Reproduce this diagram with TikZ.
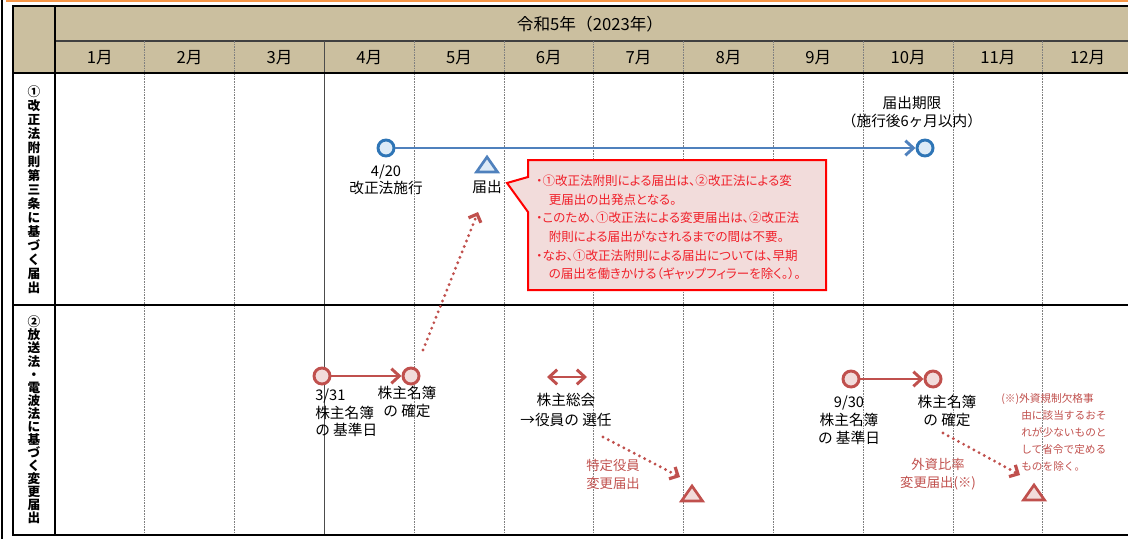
\documentclass[tikz,border=0pt]{standalone}
\usepackage{fontspec}
\setmainfont{Noto Sans CJK JP}
\newfontfamily\memofont[RawFeature=+palt]{Noto Sans CJK JP}
\usetikzlibrary{arrows.meta}

\definecolor{hdrtan}{HTML}{CBBF9F}
\definecolor{lineblue}{HTML}{4F81BD}
\definecolor{ringblue}{HTML}{2E75B6}
\definecolor{fillblue}{HTML}{DDEBF7}
\definecolor{linered}{HTML}{C0504D}
\definecolor{fillred}{HTML}{F2DCDB}
\definecolor{memored}{HTML}{F0202A}
\definecolor{gridgray}{HTML}{7F7F7F}
\definecolor{frameorange}{HTML}{F79646}

\begin{document}
\begin{tikzpicture}[x=0.75pt, y=-0.75pt,
    grid/.style={gridgray, line width=0.6pt, dash pattern=on 1.2pt off 0.8pt},
    rule/.style={black, line width=1.5pt},
    bluering/.style={circle, draw=ringblue, fill=fillblue, line width=2.2pt, minimum size=12pt, inner sep=0pt},
    redring/.style={circle, draw=linered, fill=fillred, line width=2.2pt, minimum size=12pt, inner sep=0pt},
    bluearrow/.style={lineblue, line width=2.2pt, -{Straight Barb[length=6pt,width=11pt]}},
    redarrow/.style={linered, line width=2.2pt, -{Straight Barb[length=6pt,width=11pt]}},
    bothways/.style={linered, line width=2.2pt, {Straight Barb[length=6pt,width=11pt]}-{Straight Barb[length=6pt,width=11pt]}},
    dotarrow/.style={linered, line width=2.4pt, line cap=round, dash pattern=on 0pt off 4.4pt, -{Straight Barb[length=5pt,width=10pt]}},
    bluetri/.style={draw=lineblue, fill=fillblue, line width=2pt},
    redtri/.style={draw=linered, fill=fillred, line width=2pt},
    callout/.style={draw=red, fill=fillred, line width=1.5pt},
    yearlbl/.style={font=\fontsize{12.5}{15}\selectfont},
    monthlbl/.style={font=\fontsize{12.5}{15}\selectfont},
    rowlbl/.style={align=center, inner sep=0pt, font=\bfseries\fontsize{9.5}{10.5}\selectfont},
    lbl/.style={align=center, inner sep=0pt, font=\fontsize{11}{12.5}\selectfont},
    redlbl/.style={align=center, inner sep=0pt, text=linered, font=\fontsize{10}{13.5}\selectfont},
    memo/.style={align=left, inner sep=0pt, anchor=north west, text=memored, font=\memofont\fontsize{9.4}{13.9}\selectfont},
    footnote/.style={align=left, inner sep=0pt, anchor=west, text=linered, font=\fontsize{8}{12.75}\selectfont}]
  \useasboundingbox (0,0) rectangle (1128,539);

  % Frame
  \draw[frameorange, line width=1.6pt] (6,1) -- (1128,1);
  \draw[black, line width=2.2pt] (2,0) -- (2,539);

  % Header
  \fill[hdrtan] (13,6) rectangle (1133,73);
  \draw[black!75, line width=0.8pt] (55,41) -- (1133,41);

  % Month grid
  \foreach \m in {1,2,4,5,6,7,8,9,10,11}
    \draw[grid] ({55+89.8*\m},41) -- ({55+89.8*\m},535);
  \draw[black!70, line width=0.9pt] (324.4,41) -- (324.4,535);

  % Rules
  \draw[rule] (13,6) rectangle (1133,535);
  \draw[rule] (55,6) -- (55,535);
  \draw[rule] (13,73) -- (1133,73);
  \draw[rule] (13,305) -- (1133,305);

  % Heading
  \node[yearlbl] (year) at (590,24) {令和5年（2023年）};
  \foreach \m in {1,...,12}
    \node[monthlbl] (m\m) at ({55+89.8*(\m-0.5)},58) {\m{}月};

  \node[rowlbl] (row1) at (34,190) {①\\改\\正\\法\\附\\則\\第\\三\\条\\に\\基\\づ\\く\\届\\出};
  \node[rowlbl, font=\bfseries\fontsize{9.5}{9.8}\selectfont] (row2) at (34,420) {②\\放\\送\\法\\・\\電\\波\\法\\に\\基\\づ\\く\\変\\更\\届\\出};

  % Row 1
  \node[bluering] (bc1) at (386,148) {};
  \node[bluering] (bc2) at (925,148) {};
  \draw[bluearrow] (bc1) -- (bc2);
  \node[lbl] (enforce) at (386,180) {4/20\\改正法施行};
  \coordinate (tri1) at (487,165);
  \draw[bluetri] (tri1) ++(-10.5,7) -- ++(10.5,-15) -- ++(10.5,15) -- cycle;
  \node[lbl] (todoke) at (487,187) {届出};
  \node[lbl, font=\fontsize{11}{13.5}\selectfont] (deadline) at (912,112) {届出期限\\（施行後6ヶ月以内）};

  % Callout
  \draw[callout] (528,160) -- (826,160) -- (826,290) -- (528,290) -- (528,212) -- (507,183) -- (528,177) -- cycle;
  \node[memo] (memo) at (536,175) {・①改正法附則による届出は、②改正法による変\\
    \hspace*{1em}更届出の出発点となる。\\
    ・このため、①改正法による変更届出は、②改正法\\
    \hspace*{1em}附則による届出がなされるまでの間は不要。\\
    ・なお、①改正法附則による届出については、早期\\
    \hspace*{1em}の届出を働きかける（ギャップフィラーを除く。）。};

  % Row 2
  \node[redring] (rc1) at (322,376) {};
  \node[redring] (rc2) at (411,376) {};
  \draw[redarrow] (rc1) -- (rc2);
  \node[lbl, align=left, anchor=west, font=\fontsize{11}{13}\selectfont] (base1) at (315,413) {3/31\\株主名簿\\の 基準日};
  \node[lbl, font=\fontsize{11}{14}\selectfont] (fix1) at (407,402) {株主名簿\\の 確定};
  \coordinate (d1s) at (423,350);
  \coordinate (d1e) at (478,212);
  \draw[dotarrow] (d1s) -- (d1e);

  \coordinate (gm1) at (547,377);
  \coordinate (gm2) at (587,377);
  \draw[bothways] (gm1) -- (gm2);
  \node[lbl, font=\fontsize{11}{15}\selectfont] (agm) at (566,410) {株主総会\\→役員の 選任};
  \coordinate (d2s) at (603,437);
  \coordinate (d2e) at (680,477);
  \draw[dotarrow] (d2s) -- (d2e);
  \node[redlbl] (officer) at (613,474) {特定役員\\変更届出};
  \coordinate (tri2) at (692,494);
  \draw[redtri] (tri2) ++(-10.5,7) -- ++(10.5,-15) -- ++(10.5,15) -- cycle;

  \node[redring] (rc3) at (851,379) {};
  \node[redring] (rc4) at (933,379) {};
  \draw[redarrow] (rc3) -- (rc4);
  \node[lbl, font=\fontsize{11}{13.5}\selectfont] (base2) at (849,420) {9/30\\株主名簿\\の 基準日};
  \node[lbl, font=\fontsize{11}{13.5}\selectfont] (fix2) at (947,411) {株主名簿\\の 確定};
  \coordinate (d3s) at (943,433);
  \coordinate (d3e) at (1020,475);
  \draw[dotarrow] (d3s) -- (d3e);
  \node[redlbl] (foreign) at (938,474) {外資比率\\変更届出(※)};
  \coordinate (tri3) at (1034,493);
  \draw[redtri] (tri3) ++(-10.5,7) -- ++(10.5,-15) -- ++(10.5,15) -- cycle;
  \node[footnote] (note) at (1001,432) {(※)外資規制欠格事\\
    \hspace*{15pt}由に該当するおそ\\
    \hspace*{15pt}れが少ないものと\\
    \hspace*{15pt}して省令で定める\\
    \hspace*{15pt}ものを除く。};
\end{tikzpicture}
\end{document}
